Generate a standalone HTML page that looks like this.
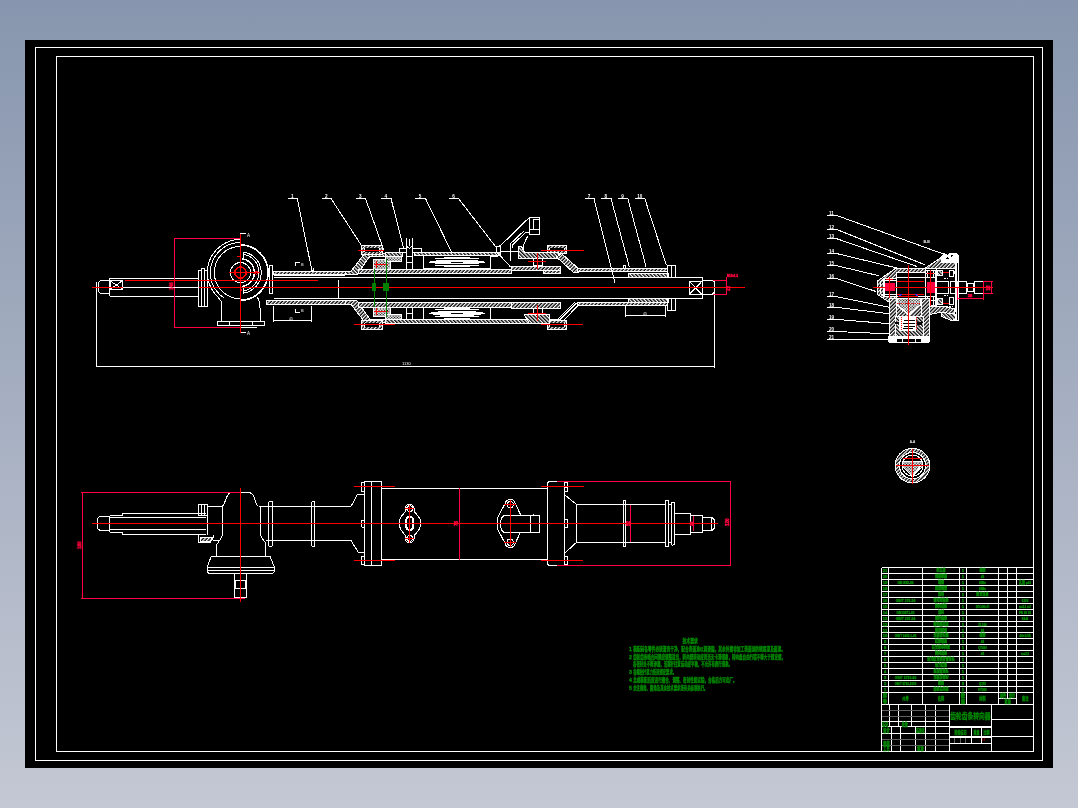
<!DOCTYPE html>
<html lang="zh-CN"><head><meta charset="utf-8"><title>齿轮齿条转向器 装配图</title>
<style>
html,body{margin:0;padding:0;background:#c3c7d3;}
body{width:1078px;height:808px;overflow:hidden;background:linear-gradient(180deg,#8796ae 0%,#c4c8d4 100%);}
svg{display:block;position:absolute;left:0;top:0;}
svg text{font-family:"Liberation Sans","Noto Sans CJK SC",sans-serif;}
svg text.g{fill:#008a00;stroke:#008a00;stroke-width:.35px;}
svg text.p{fill:#ff0040;stroke:#ff0040;stroke-width:.45px;}
</style></head><body>
<svg width="1078" height="808" viewBox="0 0 1078 808">
<defs>
<pattern id="h1" width="2.6" height="2.6" patternUnits="userSpaceOnUse" patternTransform="rotate(-45)"><rect width="2.6" height="2.6" fill="#000"/><rect width="2.6" height="1.25" fill="#fff"/></pattern>
<pattern id="h2" width="2.6" height="2.6" patternUnits="userSpaceOnUse" patternTransform="rotate(45)"><rect width="2.6" height="2.6" fill="#000"/><rect width="2.6" height="1.25" fill="#fff"/></pattern>
<pattern id="x1" width="2" height="2" patternUnits="userSpaceOnUse" patternTransform="rotate(45)"><rect width="2" height="2" fill="#000"/><rect width="2" height="0.8" fill="#fff"/><rect width="0.8" height="2" fill="#fff"/></pattern>
</defs>
<rect x="25" y="40" width="1028" height="728" fill="#000"/>
<g fill="none" stroke="#ffffff" stroke-width="1" shape-rendering="crispEdges"><rect x="35.5" y="47.5" width="1007" height="713"/>
<rect x="56.5" y="56.5" width="977" height="695"/>
<path d="M96.75 282L96.75 366.25L714.25 366.25"/>
<path d="M714.25 280L714.25 367.5"/>
<path d="M109.5 280L101 280L98.75 282L98.75 292L101 293.75L109.5 293.75"/>
<rect x="110" y="280.75" width="12.5" height="8.5"/>
<path d="M110 280.75L122.5 289.25"/>
<path d="M110 289.25L122.5 280.75"/>
<path d="M109.5 278.25L109.5 296.25"/>
<path d="M109.5 278.25L198.5 278.25"/>
<path d="M109.5 296.25L198.5 296.25"/>
<path d="M109.5 278.9L198.5 278.9"/>
<rect x="198.5" y="270.3" width="3" height="35.7"/>
<rect x="201.5" y="268.3" width="3.1" height="38.3"/>
<rect x="204.6" y="270.3" width="2.8" height="35.7"/>
<path d="M240.5 245A27.6 27.6 0 0 1 240.5 300.2" stroke-width="1.6"/>
<path d="M220.06 298.76A33.2 33.2 0 0 1 240.5 239.4"/>
<path d="M223.61 297.64A30.2 30.2 0 0 1 240.5 242.4"/>
<path d="M240.5 298.8A26.2 26.2 0 0 1 240.5 246.4"/>
<circle cx="240.5" cy="272.6" r="10.1"/>
<path d="M243.02 252.05A20.7 20.7 0 0 1 243.02 293.15"/>
<path d="M242.75 254.24A18.5 18.5 0 0 1 242.75 290.96"/>
<path d="M241.95 258.78A13.9 13.9 0 0 1 241.95 286.42" stroke-width="1.5"/>
<path d="M242 258.8L243.6 257.2L243.2 252.2"/>
<path d="M242 286.4L243.6 288L243.2 293"/>
<path d="M240.5 236L240.5 233.75L246 233.75"/>
<path d="M240.5 330.5L240.5 332.6L246 332.6"/>
<rect x="269.7" y="265" width="3" height="28"/>
<path d="M221.6 301.5L221.6 321"/>
<path d="M257.5 297L259.3 302L260 308L260 321"/>
<path d="M221.6 301.5L218 298"/>
<rect x="217" y="321" width="47.5" height="4.8"/>
<path d="M229.4 321L229.4 325.8"/>
<path d="M252.1 321L252.1 325.8"/>
<path d="M225.5 327.2L257.3 327.2"/>
<rect x="273.75" y="271.25" width="72.25" height="3.25" fill="url(#h1)"/>
<rect x="266" y="300.75" width="80" height="3.5" fill="url(#h1)"/>
<path d="M345 271.25L351 271.25L365 253L385.5 253L385.5 256L370 256L357 274.5L345 274.5Z" fill="url(#h2)"/>
<path d="M345 304.25L351 304.25L365 322.5L385.5 322.5L385.5 319.5L370 319.5L357 300.75L345 300.75Z" fill="url(#h1)"/>
<path d="M311 266L311 270.5L313 270.5L313 267.5"/>
<path d="M273.75 277.5L702.5 277.5"/>
<path d="M273.75 298.5L702.5 298.5"/>
<path d="M273.75 275.3L345 275.3"/>
<path d="M273.75 300L345 300"/>
<path d="M330 287.5L338.5 287.5L338.5 298.5"/>
<path d="M338 280.3L338 287"/>
<rect x="385.5" y="252.8" width="16.5" height="3.2" fill="url(#h2)"/>
<rect x="414.8" y="252.6" width="85.2" height="3" fill="url(#h2)"/>
<rect x="385.5" y="319.5" width="161.5" height="3.7" fill="url(#h2)"/>
<rect x="358.7" y="269.3" width="152.3" height="4.3" fill="url(#h1)"/>
<rect x="358.7" y="302.7" width="152.3" height="4.3" fill="url(#h1)"/>
<rect x="361.6" y="245.5" width="20.4" height="8.9" fill="url(#h1)"/></g>
<g stroke="none" shape-rendering="crispEdges"><rect x="364.1" y="247.7" width="15.4" height="4.5" fill="#000"/></g>
<g fill="none" stroke="#ffffff" stroke-width="1" shape-rendering="crispEdges"><path d="M364.1 247.7L364.1 252.2"/>
<path d="M379.5 247.7L379.5 252.2"/>
<rect x="361.6" y="320.5" width="20.4" height="8.9" fill="url(#h1)"/></g>
<g stroke="none" shape-rendering="crispEdges"><rect x="364.1" y="322.7" width="15.4" height="4.5" fill="#000"/></g>
<g fill="none" stroke="#ffffff" stroke-width="1" shape-rendering="crispEdges"><path d="M364.1 322.7L364.1 327.2"/>
<path d="M379.5 322.7L379.5 327.2"/>
<rect x="547.2" y="245.8" width="19.4" height="7.7" fill="url(#h1)"/></g>
<g stroke="none" shape-rendering="crispEdges"><rect x="549.7" y="248" width="14.4" height="3.3" fill="#000"/></g>
<g fill="none" stroke="#ffffff" stroke-width="1" shape-rendering="crispEdges"><path d="M549.7 248L549.7 251.3"/>
<path d="M564.1 248L564.1 251.3"/>
<rect x="547.2" y="320.6" width="19.4" height="9" fill="url(#h1)"/></g>
<g stroke="none" shape-rendering="crispEdges"><rect x="549.7" y="322.8" width="14.4" height="4.6" fill="#000"/></g>
<g fill="none" stroke="#ffffff" stroke-width="1" shape-rendering="crispEdges"><path d="M549.7 322.8L549.7 327.4"/>
<path d="M564.1 322.8L564.1 327.4"/>
<rect x="373" y="259.3" width="17" height="10" fill="url(#x1)"/>
<rect x="373" y="307" width="17" height="9.5" fill="url(#x1)"/>
<rect x="385.5" y="256" width="15.5" height="5.2" fill="url(#x1)"/>
<rect x="385.5" y="314.3" width="15.5" height="5.2" fill="url(#x1)"/>
<path d="M406.2 238L406.2 269.3"/>
<path d="M412.6 238L412.6 269.3"/>
<path d="M409.4 239L409.4 246"/>
<path d="M406.2 246L409.4 248.5L412.6 246"/>
<rect x="399.5" y="248.4" width="6.7" height="4.4"/>
<rect x="412.6" y="248.4" width="8.4" height="4.2"/>
<path d="M406.2 256L412.6 256"/>
<path d="M406.2 262.5L412.6 262.5"/>
<path d="M406.8 307L406.8 319.5"/>
<path d="M412.6 307L412.6 319.5"/>
<path d="M406.8 313L412.6 313"/>
<rect x="423.5" y="255.6" width="66.8" height="13"/>
<path d="M429 262.1L441 260.3H473L485 262.1L473 263.9H441Z" fill="#fff"/></g>
<g stroke="none" shape-rendering="crispEdges"><rect x="451" y="261.7" width="12" height="0.8" fill="#000"/></g>
<g fill="none" stroke="#ffffff" stroke-width="1" shape-rendering="crispEdges"><path d="M434.6 258.7L479 258.7"/>
<path d="M434.6 265.5L479 265.5"/>
<path d="M444 257.3L470 257.3"/>
<path d="M444 266.9L470 266.9"/>
<rect x="423.5" y="307.3" width="66.8" height="12.1"/>
<path d="M429 313.35L441 311.55H473L485 313.35L473 315.15H441Z" fill="#fff"/></g>
<g stroke="none" shape-rendering="crispEdges"><rect x="451" y="312.95" width="12" height="0.8" fill="#000"/></g>
<g fill="none" stroke="#ffffff" stroke-width="1" shape-rendering="crispEdges"><path d="M434.6 309.95L479 309.95"/>
<path d="M434.6 316.75L479 316.75"/>
<path d="M444 308.55L470 308.55"/>
<path d="M444 318.15L470 318.15"/>
<rect x="529" y="217" width="10.8" height="17.8"/>
<rect x="533.5" y="219.5" width="6.3" height="10.3"/>
<path d="M529 229.8L539.8 229.8"/>
<path d="M529 217.8L501.8 244.4L498 246.5"/>
<path d="M524.2 230.7L510.6 243.6L510.6 261.3"/>
<path d="M529 232.5L525.5 232.5L512.4 245L512.4 248"/>
<path d="M527.5 236.4L523.4 245.2L523.4 251.6"/>
<rect x="496" y="246.8" width="4" height="6"/>
<path d="M500 251.6L518.6 251.6"/>
<path d="M497.5 252.8L510.6 267"/>
<path d="M490 256L498 256"/>
<path d="M518.6 252.5L518.6 246.5L521.5 246.5L524.5 252.5L558.8 252.5L558.8 258.9L518.6 258.9Z" fill="url(#h2)"/>
<path d="M556.5 257L561.5 253.5L578.5 268.75L578.5 272L573 272Z" fill="url(#h1)"/>
<rect x="511" y="266" width="49.4" height="4.3" fill="url(#h1)"/>
<rect x="543" y="270.3" width="17.4" height="2.9" fill="url(#h1)"/>
<rect x="533" y="258.9" width="9" height="6.6"/>
<rect x="577.5" y="268.75" width="90" height="3.15" fill="url(#h1)"/>
<rect x="577.5" y="302.5" width="90" height="3.25" fill="url(#h1)"/>
<rect x="511" y="302.5" width="49.4" height="5.5" fill="url(#h1)"/>
<path d="M524.2 314.4L549.2 314.4L549.2 323.2L529 323.2Z" fill="url(#h2)"/>
<rect x="533" y="308" width="9" height="6.4"/>
<path d="M576.5 303L560 319.6"/>
<path d="M578.5 305L563 321"/>
<path d="M574.6 302.6L558 318.8"/>
<path d="M549.2 319.2L560 319.2"/>
<rect x="628" y="273" width="40" height="4" fill="url(#h2)"/>
<rect x="628" y="298.75" width="40" height="3.75" fill="url(#h2)"/>
<rect x="667.5" y="265" width="7.5" height="12.5"/>
<rect x="667.5" y="298.75" width="7.5" height="11.25"/>
<path d="M671 265L671 277.5"/>
<path d="M671 298.75L671 310"/>
<path d="M623.3 268.75L623.3 265L625 265L625 268.75"/>
<path d="M702.5 277.5L702.5 298.5"/>
<rect x="689.25" y="281.25" width="12.75" height="13.25"/>
<path d="M689.25 281.25L702 294.5"/>
<path d="M689.25 294.5L702 281.25"/>
<path d="M702.5 280L712 280L714.25 282L714.25 292.5L712 294.5L702.5 294.5"/>
<path d="M273.75 306.25L273.75 321.8"/>
<path d="M311.25 306.25L311.25 321.8"/>
<path d="M273.75 320.75L311.25 320.75"/>
<path d="M625.5 306.25L625.5 317"/>
<path d="M665 306.25L665 317"/>
<path d="M625.5 315.75L665 315.75"/>
<path d="M295 266L295 262L300 262"/>
<path d="M295 308.75L295 312.6L300 312.6"/>
<path d="M287.75 198.5L297.25 198.5"/>
<path d="M297.25 198.5L311.25 267.5"/>
<path d="M322 198.5L331 198.5"/>
<path d="M331 198.5L361.5 245.5"/>
<path d="M355.75 198.5L365.5 198.5"/>
<path d="M365.5 198.5L383.75 250"/>
<path d="M381.25 198.5L391 198.5"/>
<path d="M391 198.5L403.75 248.75"/>
<path d="M415.25 198.5L425.5 198.5"/>
<path d="M425.5 198.5L451.75 252.5"/>
<path d="M449 198.5L458.5 198.5"/>
<path d="M458.5 198.5L496.25 247.5"/>
<path d="M584.5 198.5L594 198.5"/>
<path d="M594 198.5L615 283"/>
<path d="M601.25 198.5L611 198.5"/>
<path d="M611 198.5L629.5 267.5"/>
<path d="M617.75 198.5L627.75 198.5"/>
<path d="M627.75 198.5L646.25 267.5"/>
<path d="M635.25 198.5L644.75 198.5"/>
<path d="M644.75 198.5L666.25 265"/></g>
<g fill="none" stroke="#ff0040" stroke-width="1" shape-rendering="crispEdges"><path d="M240.5 238.25L174.25 238.25L174.25 327L240.5 327"/></g>
<g fill="none" stroke="#ff0000" stroke-width="1" shape-rendering="crispEdges"><path d="M240.5 233.75L240.5 333"/>
<path d="M125 280.3L317.5 280.3"/>
<path d="M92 287.5L744.5 287.5"/></g>
<g fill="none" stroke="#ffffff" stroke-width="1" shape-rendering="crispEdges"><path d="M122.5 287.5L198.5 287.5"/></g>
<g fill="none" stroke="#ff0000" stroke-width="1" shape-rendering="crispEdges"><circle cx="240.5" cy="272.6" r="5.7" stroke-width="1.4"/>
<path d="M229 272.6L259.5 272.6"/>
<circle cx="256.3" cy="272.6" r="1.6"/>
<path d="M236.5 256.6L240.5 256.6"/></g>
<g stroke="none" shape-rendering="crispEdges"><rect x="239.5" y="289" width="2" height="2" fill="#ff0000"/></g>
<g fill="none" stroke="#ff0000" stroke-width="1" shape-rendering="crispEdges"><path d="M358 250.4L383.75 250.4"/>
<path d="M353.75 324.4L394.5 324.4"/>
<path d="M540.75 250.4L583.75 250.4"/>
<path d="M540.75 324.4L583 324.4"/>
<path d="M373.8 264.5L378.2 264.5"/>
<path d="M376 261L376 268"/>
<path d="M383.8 264.5L388.2 264.5"/>
<path d="M386 261L386 268"/>
<path d="M373.8 311.5L378.2 311.5"/>
<path d="M376 308L376 315"/>
<path d="M383.8 311.5L388.2 311.5"/>
<path d="M386 308L386 315"/>
<path d="M376 264.5L386 264.5"/>
<path d="M376 311.5L386 311.5"/>
<path d="M528.4 261.4L546.4 261.4"/>
<path d="M537.4 253.4L537.4 269.4"/>
<path d="M528.4 313.1L546.4 313.1"/>
<path d="M537.4 305.1L537.4 321.1"/></g>
<g fill="none" stroke="#ff0040" stroke-width="1" shape-rendering="crispEdges"><path d="M713 280.5L726 280.5"/>
<path d="M713 294.25L726 294.25"/>
<path d="M726 277L726 295"/></g>
<g fill="none" stroke="#008000" stroke-width="1" shape-rendering="crispEdges"><path d="M374.6 269L374.6 306.5"/>
<path d="M386.4 259.3L386.4 316.5"/></g>
<g stroke="none" shape-rendering="crispEdges"><rect x="371.6" y="283.3" width="4" height="7.2" fill="#008000"/><rect x="383.3" y="283.3" width="5.3" height="7.2" fill="#008000"/></g>
<g fill="none" stroke="#ffffff" stroke-width="1" shape-rendering="crispEdges"><path d="M827 215.4L836.4 215.4"/>
<path d="M836.4 215.4L948.7 255.9"/>
<path d="M827 229.4L836.4 229.4"/>
<path d="M836.4 229.4L924.6 264.6"/>
<path d="M827 238.6L836.4 238.6"/>
<path d="M836.4 238.6L917 266.5"/>
<path d="M827 253.5L836.4 253.5"/>
<path d="M836.4 253.5L902.3 269.3"/>
<path d="M827 265.6L836.4 265.6"/>
<path d="M836.4 265.6L879 275.8"/>
<path d="M827 278.6L836.4 278.6"/>
<path d="M836.4 278.6L876.3 291.6"/>
<path d="M827 296.6L836.4 296.6"/>
<path d="M836.4 296.6L889.3 307.3"/>
<path d="M827 307.3L836.4 307.3"/>
<path d="M836.4 307.3L889.3 313.8"/>
<path d="M827 319.4L836.4 319.4"/>
<path d="M836.4 319.4L889.3 323.7"/>
<path d="M827 331.5L836.4 331.5"/>
<path d="M836.4 331.5L889.3 333.9"/>
<path d="M827 339.5L836.4 339.5"/>
<path d="M836.4 339.5L888.3 339.5"/>
<path d="M877.4 281L895.3 268.5L925 268.5L925 272.8L896 272.8L896 278L883.7 278L883.7 296.6L896 296.6L896 298.2L889.7 298.2L889.7 302.7L877.4 294.4Z" fill="url(#h1)"/>
<path d="M883.7 279L880.6 281.5L880.6 293.5L883.7 296"/>
<path d="M924.5 268.5L941.5 257.4L941.5 262L955.5 262L955.5 268.6Z" fill="url(#h1)"/>
<path d="M941.5 262V256.5L944.5 253.5L947 255.5L950 253.4H956L958.6 255.5V262Z" fill="#fff"/></g>
<g stroke="none" shape-rendering="crispEdges"><path d="M946.5 258.5l1.2 -1.2l1.2 1.2l-1.2 1.2zM950.5 256.2l2.4 -2l.7 .7l-2.4 2z" fill="#000"/></g>
<g fill="none" stroke="#ffffff" stroke-width="1" shape-rendering="crispEdges"><path d="M896 277.3L925.3 277.3"/>
<rect x="884.1" y="278" width="11.9" height="18.6"/>
<path d="M884.1 280.3L896 280.3"/>
<path d="M884.1 294.3L896 294.3"/>
<path d="M896 296.6L925.3 296.6"/>
<rect x="925.3" y="270" width="10.1" height="35.8"/>
<path d="M925.3 277.3L935.4 277.3"/>
<path d="M925.3 296.6L935.4 296.6"/>
<path d="M925.3 273.6L935.4 273.6"/>
<path d="M925.3 300.3L935.4 300.3"/>
<path d="M927.5 270L927.5 277.3"/>
<path d="M933.2 270L933.2 277.3"/>
<path d="M927.5 296.6L927.5 305.8"/>
<path d="M933.2 296.6L933.2 305.8"/>
<path d="M937 268.6H953.4" stroke-dasharray="2 1"/>
<rect x="949.3" y="270.3" width="3.7" height="6.3"/>
<rect x="949.3" y="297.8" width="3.7" height="6.4"/>
<rect x="937.3" y="270.5" width="5" height="5.3" fill="url(#h2)"/>
<rect x="937.3" y="298.8" width="5" height="5.2" fill="url(#h2)"/>
<path d="M943.5 278.5H948M943.5 295.8H948M937 306H953.4" stroke-dasharray="2 1"/>
<path d="M936 268.6L936 281"/>
<path d="M936 293.7L936 306"/>
<path d="M953.8 270.5L955.3 272.2L953.8 274"/>
<rect x="956.8" y="259" width="1.8" height="61.5"/>
<path d="M955.4 262L955.4 312"/>
<rect x="936" y="281" width="12.2" height="12.7"/>
<rect x="950" y="281.4" width="6.8" height="11.9"/>
<rect x="957.9" y="281.4" width="8.5" height="11.9"/>
<rect x="967.2" y="283.7" width="6.7" height="7.8"/>
<path d="M966.4 284.5L967.2 284.5"/>
<path d="M966.4 290.7L967.2 290.7"/>
<path d="M973.9 284.5L974.6 284.5"/>
<path d="M973.9 290.7L974.6 290.7"/>
<rect x="974.6" y="281.4" width="8.6" height="11.9"/>
<rect x="889.7" y="298.2" width="6.8" height="38" fill="url(#h1)"/>
<rect x="921.2" y="298.2" width="7.8" height="38" fill="url(#h1)"/>
<rect x="896.5" y="298.2" width="24.7" height="18.2" fill="url(#h1)"/>
<path d="M897.5 298.8L920.3 298.8L920.3 304.9L909.6 314.8L907.6 314.8L897.5 304.9Z" fill="url(#x1)"/></g>
<g fill="none" stroke="#ffffff" stroke-width="1.3" shape-rendering="crispEdges"><path d="M897.5 304.9L908.6 314.8L920.3 304.9"/></g>
<g fill="none" stroke="#ffffff" stroke-width="1" shape-rendering="crispEdges"><rect x="895" y="316.4" width="28" height="19.8" fill="url(#h2)"/></g>
<g stroke="none" shape-rendering="crispEdges"><rect x="895.2" y="322" width="4.5" height="1.9" fill="#000"/><rect x="917" y="322" width="4.6" height="2.5" fill="#000"/><rect x="899.3" y="317.1" width="16.4" height="13.4" fill="#fff"/><rect x="903.8" y="320.05" width="11.2" height="0.9" fill="#000"/><rect x="902.5" y="323.05" width="12.5" height="0.9" fill="#000"/><rect x="903.8" y="325.95" width="11.2" height="0.9" fill="#000"/><rect x="902.5" y="328.35" width="10.5" height="0.9" fill="#000"/></g>
<g fill="none" stroke="#ffffff" stroke-width="1" shape-rendering="crispEdges"><rect x="888.2" y="336.2" width="41.6" height="6.2" rx="1.6" fill="#fff"/></g>
<g stroke="none" shape-rendering="crispEdges"><rect x="897" y="338.7" width="5" height="2.8" fill="#000"/><rect x="903.4" y="338.7" width="4.6" height="2.8" fill="#000"/><rect x="909.3" y="338.7" width="5.2" height="2.8" fill="#000"/><rect x="916" y="338.7" width="5.2" height="2.8" fill="#000"/><rect x="895.5" y="337.5" width="27" height="0.6" fill="#000"/></g>
<g fill="none" stroke="#ffffff" stroke-width="1" shape-rendering="crispEdges"><path d="M929 306L941 306L954.3 308.6L954.3 314L941 312.3L929 314.5Z" fill="url(#h1)"/>
<path d="M941 312.3L954.3 314L955.4 314L955.4 319.3L951.3 320.5L941 316Z" fill="url(#h2)"/>
<path d="M951.3 320.5L958.6 320.5"/></g>
<g fill="none" stroke="#ff0000" stroke-width="1" shape-rendering="crispEdges"><path d="M908.5 264.8L908.5 345"/>
<path d="M873 287.6L992.5 287.6"/></g>
<g stroke="none" shape-rendering="crispEdges"><rect x="885.2" y="282.5" width="9.7" height="8.4" fill="#ff0040"/><rect x="926.5" y="281.6" width="8.1" height="11.4" fill="#ff0040"/></g>
<g fill="none" stroke="#ff0000" stroke-width="1" shape-rendering="crispEdges"><path d="M889.2 277.2L889.2 297.6"/>
<path d="M930.3 269.8L930.3 305.6"/>
<path d="M886 279L892.5 279"/>
<path d="M927 273.5L933.5 273.5"/>
<path d="M896.8 281.4L923.5 281.4"/>
<path d="M896.8 294.4L923.5 294.4"/>
<path d="M898.2 296.2L918.3 296.2"/>
<path d="M943 272.1L949 272.1"/>
<path d="M943 303.2L949 303.2"/></g>
<g fill="none" stroke="#ff0040" stroke-width="1" shape-rendering="crispEdges"><path d="M957.5 298.5L983.5 298.5"/>
<path d="M957.5 288L957.5 299.6"/>
<path d="M983.5 281L983.5 300"/>
<path d="M983.5 281.4L993.2 281.4"/>
<path d="M983.5 293L993.2 293"/>
<path d="M991.7 281.4L991.7 293"/></g>
<g fill="none" stroke="#3030ff" stroke-width="1" shape-rendering="crispEdges"><path d="M899 296.2L901.5 294"/>
<path d="M915.5 294L918 296.2"/></g>
<g fill="none" stroke="#ff0000" stroke-width="1" shape-rendering="crispEdges"><path d="M897 303.4H920.5M908.6 298.5V316M901.8 317V331M916.4 317V331" stroke-dasharray="1 1"/></g>
<g fill="none" stroke="#ffffff" stroke-width="1" shape-rendering="crispEdges"><circle cx="912.5" cy="465.6" r="15.2" stroke="url(#h1)" stroke-width="4.2"/>
<circle cx="912.5" cy="465.6" r="17.3"/>
<circle cx="912.5" cy="465.6" r="13.1"/>
<circle cx="912.5" cy="465.6" r="10.5"/>
<path d="M902.5 461.4L922.3 461.4L922.3 466.5L913.5 475.6L911.5 475.6L902.5 466.5Z" fill="url(#x1)"/></g>
<g fill="none" stroke="#ffffff" stroke-width="1.6" shape-rendering="crispEdges"><path d="M921.5 465L913.5 475"/></g>
<g fill="none" stroke="#ff0000" stroke-width="1" shape-rendering="crispEdges"><path d="M896 465.6L929 465.6"/>
<path d="M912.5 449.3L912.5 484"/>
<path d="M903.4 458.2L921.6 458.2"/></g>
<g fill="none" stroke="#ffffff" stroke-width="1" shape-rendering="crispEdges"><path d="M109.5 516.25L100 516.25L97.5 518.5L97.5 528.3L100 530.5L109.5 530.5"/>
<path d="M109.5 515.5L109.5 532"/>
<path d="M109.5 515.5L122.5 515.5L122.5 513L206.25 513"/>
<path d="M109.5 532L122.5 532L122.5 534.5L206.25 534.5"/>
<path d="M109.5 517L206.25 517"/>
<path d="M109.5 529.5L206.25 529.5"/>
<rect x="198.25" y="504.25" width="8.75" height="10.75"/>
<path d="M201 504.25L201 515"/>
<path d="M204.5 504.25L204.5 515"/>
<path d="M198.25 534.5L198.25 542.5L210 542.5L213 538L213 534.5"/>
<path d="M200 537L212.5 537L210 541.5L200 541.5Z" fill="url(#h1)"/>
<path d="M207 506.25L222.5 506.25"/>
<path d="M207 506.25L207 534.5"/>
<path d="M222.5 506.25C226 504 225 494 231 492.5H249.5C256 494 254 504 258.5 506.25"/>
<path d="M222.5 506.25V533C222.5 538 218.5 542 216.25 545V556.25"/>
<path d="M260 506.25V531C260 537 263.5 540 265.5 543V556.25"/>
<path d="M258.5 506.25L268.75 506.25"/>
<path d="M213 540.5L219 540.5"/>
<path d="M211.25 556.25L270 556.25L274.5 567.5L274.5 571.5L272.5 573.75L209 573.75L207 571.5L207 567.5Z"/>
<path d="M207 567.5L274.5 567.5"/>
<path d="M207.5 570.5L274 570.5"/>
<path d="M234.5 573.75L234.5 597.5L246.25 597.5L246.25 573.75"/>
<path d="M234.5 580.75L246.25 580.75"/>
<path d="M234.5 588.75L246.25 588.75"/>
<path d="M235.5 580.75L235.5 588.75"/>
<path d="M245.25 580.75L245.25 588.75"/>
<path d="M268.75 506.25L351.25 506.25"/>
<path d="M265.5 540.75L351.25 540.75"/>
<rect x="268.75" y="501.25" width="3.75" height="45" rx="1"/>
<rect x="311.75" y="501.25" width="2.85" height="45.25" rx="1"/>
<path d="M351 506.4L357.4 494.5L364.3 494.5"/>
<path d="M351 540.6L358.4 552.4L364.3 552.4"/>
<rect x="364.3" y="481.5" width="17.2" height="84" rx="1.2"/>
<path d="M371.6 481.5L371.6 565.5"/>
<path d="M364.3 482.5L362 482.5L361.1 483.5L361.1 490.8L362 491.8L364.3 491.8"/>
<path d="M364.3 520L362 520L361.1 521L361.1 526.1L362 527.1L364.3 527.1"/>
<path d="M364.3 556L362 556L361.1 557L361.1 563.6L362 564.6L364.3 564.6"/>
<path d="M381.5 488.25L547.5 488.25"/>
<path d="M381.5 559.4L547.5 559.4"/>
<path d="M405.3 508.6A4.4 4.4 0 0 1 414.1 508.6V511C414.5 513.5 420.9 516 420.9 523.4S414.5 533.5 414.1 536V538.4A4.4 4.4 0 0 1 405.3 538.4V536C405 533.5 399.2 531 399.2 523.4S405 513.5 405.3 511Z"/>
<circle cx="409.7" cy="508.6" r="2.9"/>
<circle cx="409.7" cy="538.4" r="2.9"/>
<rect x="405.8" y="516.2" width="7.8" height="14.4" rx="3.8"/>
<rect x="406.8" y="517.2" width="5.8" height="12.4" rx="2.9"/>
<path d="M505.2 503.3A5.2 5.2 0 0 1 515.3 503.5L520.6 514.8M505.2 503.3L497.7 517.5Q496.5 523.4 497.7 529.3L505.2 543.6A5.2 5.2 0 0 0 515.3 543.4L520 533"/>
<circle cx="510.2" cy="504.8" r="3.1"/>
<circle cx="510.2" cy="542.2" r="3.1"/>
<path d="M539.6 515.2H506Q500.6 515.2 500.6 523.9Q500.6 532.7 506 532.7H539.6V515.2M530 515.2V532.7M533.7 515.2V513.7"/>
<path d="M557 481.5L549 481.5L547.5 483L547.5 564L549 565.5L557 565.5"/>
<path d="M564.25 481.5L564.25 565.5"/>
<rect x="564.25" y="482.2" width="2.75" height="9.6"/>
<path d="M564.25 487L567 487"/>
<rect x="564.25" y="519.3" width="2.75" height="8.1"/>
<path d="M564.25 523.35L567 523.35"/>
<rect x="564.25" y="556" width="2.75" height="8.6"/>
<path d="M564.25 560.3L567 560.3"/>
<path d="M564.25 494.5L576.5 504.4L576.5 542.3L564.25 553.7"/>
<path d="M576.5 504.4L665 504.4"/>
<path d="M576.5 542.3L665 542.3"/>
<rect x="623" y="500" width="2.75" height="46.75" rx="1"/>
<rect x="665" y="500" width="3.25" height="46.75" rx="1"/>
<rect x="671.25" y="502" width="3" height="43" rx="1"/>
<path d="M668.25 504.5L671.25 504.5"/>
<path d="M668.25 542L671.25 542"/>
<path d="M674.25 513.25L690 513.25L690 515.5L702.5 515.5L702.5 532L690 532L690 534.25L674.25 534.25"/>
<path d="M690 515.5L690 532"/>
<path d="M702.5 517L711.5 517L714.25 519.5L714.25 528.5L711.5 530.75L702.5 530.75"/>
<path d="M702.5 517L702.5 530.75"/>
<path d="M711 517L711 530.75"/></g>
<g fill="none" stroke="#ff0040" stroke-width="1" shape-rendering="crispEdges"><path d="M240 492.5L82.5 492.5L82.5 598L245 598"/>
<path d="M81.25 492.5L82.5 492.5"/>
<path d="M81.25 598L82.5 598"/></g>
<g fill="none" stroke="#ff0000" stroke-width="1" shape-rendering="crispEdges"><path d="M240.5 488.25L240.5 601.75"/>
<path d="M92 523.3L717.5 523.3"/>
<path d="M354 486.6L394.8 486.6"/>
<path d="M354 560.2L394.8 560.2"/>
<path d="M541 486.6L584 486.6"/>
<path d="M541 560.2L583 560.2"/></g>
<g fill="none" stroke="#ff0040" stroke-width="1" shape-rendering="crispEdges"><path d="M459.25 488.25L459.25 559.5"/></g>
<g fill="none" stroke="#ff0000" stroke-width="1" shape-rendering="crispEdges"><path d="M409.7 504.5L409.7 542.5"/>
<path d="M405.3 508.6L414.1 508.6"/>
<path d="M405.3 538.4L414.1 538.4"/>
<path d="M510.2 500L510.2 547"/>
<path d="M504.3 504.8L516 504.8"/>
<path d="M504.3 542.2L516 542.2"/></g>
<g fill="none" stroke="#ff0040" stroke-width="1" shape-rendering="crispEdges"><path d="M557 481.25L731.25 481.25"/>
<path d="M557 565.25L731.25 565.25"/>
<path d="M730 481.25L730 565.25"/>
<path d="M630.5 504.5L630.5 542"/>
<path d="M693.75 516.25L693.75 531.25"/></g>
<g fill="none" stroke="#ffffff" stroke-width="1" shape-rendering="crispEdges"><path d="M881.5 567.5L1033.5 567.5"/>
<path d="M881.5 573.45L1033.5 573.45"/>
<path d="M881.5 579.39L1033.5 579.39"/>
<path d="M881.5 585.34L1033.5 585.34"/>
<path d="M881.5 591.28L1033.5 591.28"/>
<path d="M881.5 597.23L1033.5 597.23"/>
<path d="M881.5 603.17L1033.5 603.17"/>
<path d="M881.5 609.12L1033.5 609.12"/>
<path d="M881.5 615.06L1033.5 615.06"/>
<path d="M881.5 621L1033.5 621"/>
<path d="M881.5 626.95L1033.5 626.95"/>
<path d="M881.5 632.89L1033.5 632.89"/>
<path d="M881.5 638.84L1033.5 638.84"/>
<path d="M881.5 644.78L1033.5 644.78"/>
<path d="M881.5 650.73L1033.5 650.73"/>
<path d="M881.5 656.67L1033.5 656.67"/>
<path d="M881.5 662.62L1033.5 662.62"/>
<path d="M881.5 668.57L1033.5 668.57"/>
<path d="M881.5 674.51L1033.5 674.51"/>
<path d="M881.5 680.46L1033.5 680.46"/>
<path d="M881.5 686.4L1033.5 686.4"/>
<path d="M881.5 692.35L1033.5 692.35"/>
<path d="M881.5 567.5L881.5 704.5"/>
<path d="M888.6 567.5L888.6 704.5"/>
<path d="M922.5 567.5L922.5 704.5"/>
<path d="M959.5 567.5L959.5 704.5"/>
<path d="M966.5 567.5L966.5 704.5"/>
<path d="M998.4 567.5L998.4 704.5"/>
<path d="M1007.5 567.5L1007.5 704.5"/>
<path d="M1016.6 567.5L1016.6 704.5"/>
<path d="M881.5 704.5L1033.5 704.5"/></g>
<g stroke="none" shape-rendering="crispEdges"><rect x="998.9" y="698.9" width="17.2" height="5.1" fill="#000"/></g>
<g fill="none" stroke="#ffffff" stroke-width="1" shape-rendering="crispEdges"><path d="M998.4 698.8L1016.6 698.8"/>
<path d="M889.2 704.5L889.2 726.6"/>
<path d="M898.3 704.5L898.3 726.6"/>
<path d="M911.4 704.5L911.4 726.6"/>
<path d="M925.2 704.5L925.2 726.6"/>
<path d="M935.8 704.5L935.8 726.6"/>
<path d="M949.5 704.5L949.5 726.6"/>
<path d="M881.5 704.5L881.5 751.5"/></g>
<g fill="none" stroke="#606060" stroke-width="1" shape-rendering="crispEdges"><path d="M881.5 710.3L949.5 710.3"/>
<path d="M881.5 716.4L949.5 716.4"/></g>
<g fill="none" stroke="#ffffff" stroke-width="1" shape-rendering="crispEdges"><path d="M881.5 721.4L949.5 721.4"/>
<path d="M881.5 726.6L949.5 726.6"/>
<path d="M891.4 726.6L891.4 751.5"/>
<path d="M900.6 726.6L900.6 751.5"/>
<path d="M915.6 726.6L915.6 751.5"/>
<path d="M925.2 726.6L925.2 751.5"/>
<path d="M935.8 726.6L935.8 751.5"/>
<path d="M949.5 726.6L949.5 751.5"/>
<path d="M881.5 733.2L949.5 733.2"/></g>
<g fill="none" stroke="#606060" stroke-width="1" shape-rendering="crispEdges"><path d="M881.5 739.3L949.5 739.3"/>
<path d="M881.5 745.5L949.5 745.5"/></g>
<g fill="none" stroke="#ffffff" stroke-width="1" shape-rendering="crispEdges"><path d="M949.5 704.5L949.5 751.5"/>
<rect x="949.9" y="727.9" width="21.2" height="8.4"/>
<rect x="971.9" y="727.9" width="9.2" height="8.4"/>
<rect x="981.9" y="727.9" width="9.4" height="8.4"/>
<rect x="949.9" y="737" width="21.2" height="6.2"/>
<rect x="971.9" y="737" width="9.2" height="6.2"/>
<rect x="981.9" y="737" width="9.4" height="6.2"/>
<path d="M949.5 726.9L991.3 726.9"/>
<path d="M949.5 743.9L991.3 743.9"/></g>
<g fill="none" stroke="#606060" stroke-width="1" shape-rendering="crispEdges"><path d="M954.6 737.5L954.6 742.7"/>
<path d="M960.3 737.5L960.3 742.7"/>
<path d="M965.6 737.5L965.6 742.7"/></g>
<g fill="none" stroke="#ffffff" stroke-width="1.4" shape-rendering="crispEdges"><path d="M991.6 704.5L991.6 751.5"/>
<path d="M991.6 719.4L1033.5 719.4"/>
<path d="M991.6 736.7L1033.5 736.7"/></g>
<g opacity="0.999"><text x="402" y="365" font-size="4" fill="#fff">1130</text>
<text x="247" y="236.5" font-size="4.5" fill="#fff">A</text>
<text x="247" y="335" font-size="4.5" fill="#fff">A</text>
<text x="289" y="319.5" font-size="3.5" fill="#fff">45</text>
<text x="643" y="314.5" font-size="3.5" fill="#fff">45</text>
<text x="301" y="265.5" font-size="4" fill="#fff">B</text>
<text x="301" y="312" font-size="4" fill="#fff">B</text>
<text x="292.25" y="197.6" font-size="4.6" fill="#fff" text-anchor="middle" font-weight="bold">1</text>
<text x="326.25" y="197.6" font-size="4.6" fill="#fff" text-anchor="middle" font-weight="bold">2</text>
<text x="360.38" y="197.6" font-size="4.6" fill="#fff" text-anchor="middle" font-weight="bold">3</text>
<text x="385.88" y="197.6" font-size="4.6" fill="#fff" text-anchor="middle" font-weight="bold">4</text>
<text x="420.12" y="197.6" font-size="4.6" fill="#fff" text-anchor="middle" font-weight="bold">5</text>
<text x="453.5" y="197.6" font-size="4.6" fill="#fff" text-anchor="middle" font-weight="bold">6</text>
<text x="589" y="197.6" font-size="4.6" fill="#fff" text-anchor="middle" font-weight="bold">7</text>
<text x="605.88" y="197.6" font-size="4.6" fill="#fff" text-anchor="middle" font-weight="bold">8</text>
<text x="622.5" y="197.6" font-size="4.6" fill="#fff" text-anchor="middle" font-weight="bold">9</text>
<text x="639.75" y="197.6" font-size="4.6" fill="#fff" text-anchor="middle" font-weight="bold">10</text>
<text class="p" x="173.2" y="290" font-size="4.5" font-weight="bold" transform="rotate(-90 173.2 290)">146</text>
<text class="p" x="727" y="277" font-size="4" textLength="11" lengthAdjust="spacingAndGlyphs" font-weight="bold">M16×1.5</text>
<text class="p" x="729.6" y="291" font-size="4.5" font-weight="bold" transform="rotate(-90 729.6 291)">22</text>
<text x="831.5" y="214.8" font-size="4.6" fill="#fff" text-anchor="middle" font-weight="bold">11</text>
<text x="831.5" y="228.8" font-size="4.6" fill="#fff" text-anchor="middle" font-weight="bold">12</text>
<text x="831.5" y="238" font-size="4.6" fill="#fff" text-anchor="middle" font-weight="bold">13</text>
<text x="831.5" y="252.9" font-size="4.6" fill="#fff" text-anchor="middle" font-weight="bold">14</text>
<text x="831.5" y="265" font-size="4.6" fill="#fff" text-anchor="middle" font-weight="bold">15</text>
<text x="831.5" y="278" font-size="4.6" fill="#fff" text-anchor="middle" font-weight="bold">16</text>
<text x="831.5" y="296" font-size="4.6" fill="#fff" text-anchor="middle" font-weight="bold">17</text>
<text x="831.5" y="306.7" font-size="4.6" fill="#fff" text-anchor="middle" font-weight="bold">18</text>
<text x="831.5" y="318.8" font-size="4.6" fill="#fff" text-anchor="middle" font-weight="bold">19</text>
<text x="831.5" y="330.9" font-size="4.6" fill="#fff" text-anchor="middle" font-weight="bold">20</text>
<text x="831.5" y="338.9" font-size="4.6" fill="#fff" text-anchor="middle" font-weight="bold">21</text>
<text x="926.6" y="242.6" font-size="3.6" fill="#fff" text-anchor="middle" textLength="6.4" lengthAdjust="spacingAndGlyphs" font-weight="bold">B-B</text>
<text class="p" x="970" y="297.4" font-size="4" text-anchor="middle" font-weight="bold">28</text>
<text class="p" x="990.4" y="290.5" font-size="4.5" font-weight="bold" transform="rotate(-90 990.4 290.5)">18</text>
<text x="912.5" y="442.6" font-size="3.6" fill="#fff" text-anchor="middle" textLength="5.6" lengthAdjust="spacingAndGlyphs" font-weight="bold">A-A</text>
<text class="p" x="81.3" y="549" font-size="4.5" font-weight="bold" transform="rotate(-90 81.3 549)">180</text>
<text class="p" x="458.2" y="526" font-size="4.5" font-weight="bold" transform="rotate(-90 458.2 526)">76</text>
<text class="p" x="729" y="526" font-size="4.5" font-weight="bold" transform="rotate(-90 729 526)">120</text>
<text class="p" x="629.5" y="526" font-size="4.5" font-weight="bold" transform="rotate(-90 629.5 526)">52</text>
<text class="p" x="692.8" y="526" font-size="4" font-weight="bold" transform="rotate(-90 692.8 526)">22</text>
<text class="g" x="682.5" y="643.2" font-size="5.2" textLength="15.5" lengthAdjust="spacingAndGlyphs" font-weight="bold">技术要求</text>
<text class="g" x="629" y="650.6" font-size="5.2" font-weight="bold">1</text>
<text class="g" x="633.2" y="650.6" font-size="5.2" textLength="151.8" lengthAdjust="spacingAndGlyphs" font-weight="bold">装配前各零件必须清洗干净，配合表面涂以润滑脂，其余外露非加工表面涂防锈底漆及面漆。</text>
<text class="g" x="629" y="658.6" font-size="5.2" font-weight="bold">2</text>
<text class="g" x="633.2" y="658.6" font-size="5.2" textLength="151.8" lengthAdjust="spacingAndGlyphs" font-weight="bold">齿轮齿条啮合间隙应调整适当，转向器转动应灵活无卡滞现象，转向盘自由行程不得大于规定值，</text>
<text class="g" x="633" y="666.2" font-size="5.2" textLength="99" lengthAdjust="spacingAndGlyphs" font-weight="bold">各密封处不得渗漏，活塞杆往复运动应平稳，不允许有爬行现象。</text>
<text class="g" x="629" y="674.2" font-size="5.2" font-weight="bold">3</text>
<text class="g" x="633.2" y="674.2" font-size="5.2" textLength="42.8" lengthAdjust="spacingAndGlyphs" font-weight="bold">各螺栓拧紧力矩按规定要求。</text>
<text class="g" x="629" y="682" font-size="5.2" font-weight="bold">4</text>
<text class="g" x="633.2" y="682" font-size="5.2" textLength="103.4" lengthAdjust="spacingAndGlyphs" font-weight="bold">总成装配后应进行磨合、调整、密封性能试验，合格后方可出厂。</text>
<text class="g" x="629" y="689.9" font-size="5.2" font-weight="bold">5</text>
<text class="g" x="633.2" y="689.9" font-size="5.2" textLength="74.3" lengthAdjust="spacingAndGlyphs" font-weight="bold">未注倒角、圆角及其余技术要求按有关标准执行。</text>
<text class="g" x="885.05" y="572.05" font-size="4.2" text-anchor="middle" font-weight="bold">21</text>
<text class="g" x="941" y="572.05" font-size="4.1" text-anchor="middle" textLength="9.15" lengthAdjust="spacingAndGlyphs" font-weight="bold">防尘罩</text>
<text class="g" x="963" y="572.05" font-size="4.2" text-anchor="middle" font-weight="bold">1</text>
<text class="g" x="982.45" y="572.05" font-size="4.1" text-anchor="middle" textLength="6.1" lengthAdjust="spacingAndGlyphs" font-weight="bold">橡胶</text>
<text class="g" x="885.05" y="577.99" font-size="4.2" text-anchor="middle" font-weight="bold">20</text>
<text class="g" x="941" y="577.99" font-size="4.1" text-anchor="middle" textLength="12.2" lengthAdjust="spacingAndGlyphs" font-weight="bold">调整螺塞</text>
<text class="g" x="963" y="577.99" font-size="4.2" text-anchor="middle" font-weight="bold">1</text>
<text class="g" x="982.45" y="577.99" font-size="4.1" text-anchor="middle" textLength="3.4" lengthAdjust="spacingAndGlyphs" font-weight="bold">45</text>
<text class="g" x="885.05" y="583.94" font-size="4.2" text-anchor="middle" font-weight="bold">19</text>
<text class="g" x="905.55" y="583.94" font-size="4.2" text-anchor="middle" textLength="16.2" lengthAdjust="spacingAndGlyphs" font-weight="bold">GB 893-86</text>
<text class="g" x="941" y="583.94" font-size="4.1" text-anchor="middle" textLength="6.1" lengthAdjust="spacingAndGlyphs" font-weight="bold">挡圈</text>
<text class="g" x="963" y="583.94" font-size="4.2" text-anchor="middle" font-weight="bold">1</text>
<text class="g" x="982.45" y="583.94" font-size="4.1" text-anchor="middle" textLength="6.8" lengthAdjust="spacingAndGlyphs" font-weight="bold">65Mn</text>
<text class="g" x="1025.05" y="583.94" font-size="4.2" text-anchor="middle" textLength="12" lengthAdjust="spacingAndGlyphs" font-weight="bold">孔用 φ40</text>
<text class="g" x="885.05" y="589.88" font-size="4.2" text-anchor="middle" font-weight="bold">18</text>
<text class="g" x="941" y="589.88" font-size="4.1" text-anchor="middle" textLength="12.2" lengthAdjust="spacingAndGlyphs" font-weight="bold">压紧弹簧</text>
<text class="g" x="963" y="589.88" font-size="4.2" text-anchor="middle" font-weight="bold">1</text>
<text class="g" x="982.45" y="589.88" font-size="4.1" text-anchor="middle" textLength="6.8" lengthAdjust="spacingAndGlyphs" font-weight="bold">65Mn</text>
<text class="g" x="885.05" y="595.83" font-size="4.2" text-anchor="middle" font-weight="bold">17</text>
<text class="g" x="941" y="595.83" font-size="4.1" text-anchor="middle" textLength="6.1" lengthAdjust="spacingAndGlyphs" font-weight="bold">压块</text>
<text class="g" x="963" y="595.83" font-size="4.2" text-anchor="middle" font-weight="bold">1</text>
<text class="g" x="982.45" y="595.83" font-size="4.1" text-anchor="middle" textLength="12.2" lengthAdjust="spacingAndGlyphs" font-weight="bold">粉末冶金</text>
<text class="g" x="885.05" y="601.77" font-size="4.2" text-anchor="middle" font-weight="bold">16</text>
<text class="g" x="905.55" y="601.77" font-size="4.2" text-anchor="middle" textLength="19.8" lengthAdjust="spacingAndGlyphs" font-weight="bold">GB/T 276-94</text>
<text class="g" x="941" y="601.77" font-size="4.1" text-anchor="middle" textLength="15.25" lengthAdjust="spacingAndGlyphs" font-weight="bold">深沟球轴承</text>
<text class="g" x="963" y="601.77" font-size="4.2" text-anchor="middle" font-weight="bold">1</text>
<text class="g" x="1025.05" y="601.77" font-size="4.2" text-anchor="middle" textLength="6.4" lengthAdjust="spacingAndGlyphs" font-weight="bold">6203</text>
<text class="g" x="885.05" y="607.72" font-size="4.2" text-anchor="middle" font-weight="bold">15</text>
<text class="g" x="941" y="607.72" font-size="4.1" text-anchor="middle" textLength="12.2" lengthAdjust="spacingAndGlyphs" font-weight="bold">转向齿轮</text>
<text class="g" x="963" y="607.72" font-size="4.2" text-anchor="middle" font-weight="bold">1</text>
<text class="g" x="982.45" y="607.72" font-size="4.1" text-anchor="middle" textLength="13.6" lengthAdjust="spacingAndGlyphs" font-weight="bold">20CrMnTi</text>
<text class="g" x="1025.05" y="607.72" font-size="4.2" text-anchor="middle" textLength="12" lengthAdjust="spacingAndGlyphs" font-weight="bold">m=2.5 z=7</text>
<text class="g" x="885.05" y="613.66" font-size="4.2" text-anchor="middle" font-weight="bold">14</text>
<text class="g" x="905.55" y="613.66" font-size="4.2" text-anchor="middle" textLength="18" lengthAdjust="spacingAndGlyphs" font-weight="bold">GB13871-92</text>
<text class="g" x="941" y="613.66" font-size="4.1" text-anchor="middle" textLength="6.1" lengthAdjust="spacingAndGlyphs" font-weight="bold">油封</text>
<text class="g" x="963" y="613.66" font-size="4.2" text-anchor="middle" font-weight="bold">1</text>
<text class="g" x="1025.05" y="613.66" font-size="4.2" text-anchor="middle" textLength="12" lengthAdjust="spacingAndGlyphs" font-weight="bold">FB 20 35</text>
<text class="g" x="885.05" y="619.61" font-size="4.2" text-anchor="middle" font-weight="bold">13</text>
<text class="g" x="905.55" y="619.61" font-size="4.2" text-anchor="middle" textLength="19.8" lengthAdjust="spacingAndGlyphs" font-weight="bold">GB/T 297-94</text>
<text class="g" x="941" y="619.61" font-size="4.1" text-anchor="middle" textLength="12.2" lengthAdjust="spacingAndGlyphs" font-weight="bold">滚针轴承</text>
<text class="g" x="963" y="619.61" font-size="4.2" text-anchor="middle" font-weight="bold">1</text>
<text class="g" x="1025.05" y="619.61" font-size="4.2" text-anchor="middle" textLength="6.4" lengthAdjust="spacingAndGlyphs" font-weight="bold">NA49</text>
<text class="g" x="885.05" y="625.55" font-size="4.2" text-anchor="middle" font-weight="bold">12</text>
<text class="g" x="941" y="625.55" font-size="4.1" text-anchor="middle" textLength="15.25" lengthAdjust="spacingAndGlyphs" font-weight="bold">转向器壳体</text>
<text class="g" x="963" y="625.55" font-size="4.2" text-anchor="middle" font-weight="bold">1</text>
<text class="g" x="982.45" y="625.55" font-size="4.1" text-anchor="middle" textLength="8.5" lengthAdjust="spacingAndGlyphs" font-weight="bold">ZL104</text>
<text class="g" x="885.05" y="631.5" font-size="4.2" text-anchor="middle" font-weight="bold">11</text>
<text class="g" x="941" y="631.5" font-size="4.1" text-anchor="middle" textLength="12.2" lengthAdjust="spacingAndGlyphs" font-weight="bold">锁紧螺母</text>
<text class="g" x="963" y="631.5" font-size="4.2" text-anchor="middle" font-weight="bold">1</text>
<text class="g" x="982.45" y="631.5" font-size="4.1" text-anchor="middle" textLength="3.4" lengthAdjust="spacingAndGlyphs" font-weight="bold">35</text>
<text class="g" x="885.05" y="637.44" font-size="4.2" text-anchor="middle" font-weight="bold">10</text>
<text class="g" x="905.55" y="637.44" font-size="4.2" text-anchor="middle" textLength="21.5" lengthAdjust="spacingAndGlyphs" font-weight="bold">GB/T 3452.1-92</text>
<text class="g" x="941" y="637.44" font-size="4.1" text-anchor="middle" textLength="15.25" lengthAdjust="spacingAndGlyphs" font-weight="bold">活塞密封圈</text>
<text class="g" x="963" y="637.44" font-size="4.2" text-anchor="middle" font-weight="bold">1</text>
<text class="g" x="982.45" y="637.44" font-size="4.1" text-anchor="middle" textLength="6.1" lengthAdjust="spacingAndGlyphs" font-weight="bold">橡胶</text>
<text class="g" x="1025.05" y="637.44" font-size="4.2" text-anchor="middle" textLength="11.2" lengthAdjust="spacingAndGlyphs" font-weight="bold">40×3.55</text>
<text class="g" x="885.05" y="643.38" font-size="4.2" text-anchor="middle" font-weight="bold">9</text>
<text class="g" x="941" y="643.38" font-size="4.1" text-anchor="middle" textLength="12.2" lengthAdjust="spacingAndGlyphs" font-weight="bold">缸筒端盖</text>
<text class="g" x="963" y="643.38" font-size="4.2" text-anchor="middle" font-weight="bold">1</text>
<text class="g" x="982.45" y="643.38" font-size="4.1" text-anchor="middle" textLength="3.4" lengthAdjust="spacingAndGlyphs" font-weight="bold">45</text>
<text class="g" x="885.05" y="649.33" font-size="4.2" text-anchor="middle" font-weight="bold">8</text>
<text class="g" x="941" y="649.33" font-size="4.1" text-anchor="middle" textLength="18.3" lengthAdjust="spacingAndGlyphs" font-weight="bold">右支承导向套</text>
<text class="g" x="963" y="649.33" font-size="4.2" text-anchor="middle" font-weight="bold">1</text>
<text class="g" x="982.45" y="649.33" font-size="4.1" text-anchor="middle" textLength="8.5" lengthAdjust="spacingAndGlyphs" font-weight="bold">QT450</text>
<text class="g" x="885.05" y="655.27" font-size="4.2" text-anchor="middle" font-weight="bold">7</text>
<text class="g" x="941" y="655.27" font-size="4.1" text-anchor="middle" textLength="12.2" lengthAdjust="spacingAndGlyphs" font-weight="bold">转向齿条</text>
<text class="g" x="963" y="655.27" font-size="4.2" text-anchor="middle" font-weight="bold">1</text>
<text class="g" x="982.45" y="655.27" font-size="4.1" text-anchor="middle" textLength="3.4" lengthAdjust="spacingAndGlyphs" font-weight="bold">45</text>
<text class="g" x="1025.05" y="655.27" font-size="4.2" text-anchor="middle" textLength="8" lengthAdjust="spacingAndGlyphs" font-weight="bold">m=2.5</text>
<text class="g" x="885.05" y="661.22" font-size="4.2" text-anchor="middle" font-weight="bold">6</text>
<text class="g" x="941" y="661.22" font-size="4.1" text-anchor="middle" textLength="27.45" lengthAdjust="spacingAndGlyphs" font-weight="bold">动力缸支架及管接头</text>
<text class="g" x="963" y="661.22" font-size="4.2" text-anchor="middle" font-weight="bold">1</text>
<text class="g" x="885.05" y="667.17" font-size="4.2" text-anchor="middle" font-weight="bold">5</text>
<text class="g" x="941" y="667.17" font-size="4.1" text-anchor="middle" textLength="12.2" lengthAdjust="spacingAndGlyphs" font-weight="bold">动力缸筒</text>
<text class="g" x="963" y="667.17" font-size="4.2" text-anchor="middle" font-weight="bold">1</text>
<text class="g" x="885.05" y="673.11" font-size="4.2" text-anchor="middle" font-weight="bold">4</text>
<text class="g" x="941" y="673.11" font-size="4.1" text-anchor="middle" textLength="15.25" lengthAdjust="spacingAndGlyphs" font-weight="bold">进油管接头</text>
<text class="g" x="963" y="673.11" font-size="4.2" text-anchor="middle" font-weight="bold">1</text>
<text class="g" x="885.05" y="679.06" font-size="4.2" text-anchor="middle" font-weight="bold">3</text>
<text class="g" x="905.55" y="679.06" font-size="4.2" text-anchor="middle" textLength="21.5" lengthAdjust="spacingAndGlyphs" font-weight="bold">GB/T 5783-86</text>
<text class="g" x="941" y="679.06" font-size="4.1" text-anchor="middle" textLength="15.25" lengthAdjust="spacingAndGlyphs" font-weight="bold">活塞及密封</text>
<text class="g" x="963" y="679.06" font-size="4.2" text-anchor="middle" font-weight="bold">1</text>
<text class="g" x="885.05" y="685" font-size="4.2" text-anchor="middle" font-weight="bold">2</text>
<text class="g" x="905.55" y="685" font-size="4.2" text-anchor="middle" textLength="21.5" lengthAdjust="spacingAndGlyphs" font-weight="bold">GB/T 5782-2000</text>
<text class="g" x="941" y="685" font-size="4.1" text-anchor="middle" textLength="6.1" lengthAdjust="spacingAndGlyphs" font-weight="bold">螺栓</text>
<text class="g" x="963" y="685" font-size="4.2" text-anchor="middle" font-weight="bold">8</text>
<text class="g" x="982.45" y="685" font-size="4.1" text-anchor="middle" textLength="6.8" lengthAdjust="spacingAndGlyphs" font-weight="bold">Q235</text>
<text class="g" x="885.05" y="690.95" font-size="4.2" text-anchor="middle" font-weight="bold">1</text>
<text class="g" x="941" y="690.95" font-size="4.1" text-anchor="middle" textLength="15.25" lengthAdjust="spacingAndGlyphs" font-weight="bold">齿条左壳体</text>
<text class="g" x="963" y="690.95" font-size="4.2" text-anchor="middle" font-weight="bold">1</text>
<text class="g" x="982.45" y="690.95" font-size="4.1" text-anchor="middle" textLength="8.5" lengthAdjust="spacingAndGlyphs" font-weight="bold">HT200</text>
<text class="g" x="885" y="697.2" font-size="4.4" text-anchor="middle" font-weight="bold">序</text>
<text class="g" x="885" y="702.8" font-size="4.4" text-anchor="middle" font-weight="bold">号</text>
<text class="g" x="905.5" y="700.3" font-size="4.6" text-anchor="middle" textLength="6.5" lengthAdjust="spacingAndGlyphs" font-weight="bold">代号</text>
<text class="g" x="941" y="700.3" font-size="4.6" text-anchor="middle" textLength="6.5" lengthAdjust="spacingAndGlyphs" font-weight="bold">名称</text>
<text class="g" x="963" y="697.2" font-size="4.4" text-anchor="middle" font-weight="bold">数</text>
<text class="g" x="963" y="702.8" font-size="4.4" text-anchor="middle" font-weight="bold">量</text>
<text class="g" x="982.4" y="700.3" font-size="4.6" text-anchor="middle" textLength="6.5" lengthAdjust="spacingAndGlyphs" font-weight="bold">材料</text>
<text class="g" x="1003" y="697.3" font-size="4.4" text-anchor="middle" textLength="6.2" lengthAdjust="spacingAndGlyphs" font-weight="bold">单件</text>
<text class="g" x="1012" y="697.3" font-size="4.4" text-anchor="middle" textLength="6.2" lengthAdjust="spacingAndGlyphs" font-weight="bold">总计</text>
<text class="g" x="1007.7" y="703.3" font-size="4.4" text-anchor="middle" textLength="6.2" lengthAdjust="spacingAndGlyphs" font-weight="bold">重量</text>
<text class="g" x="1025.3" y="700.3" font-size="4.6" text-anchor="middle" textLength="6.5" lengthAdjust="spacingAndGlyphs" font-weight="bold">备注</text>
<text class="g" x="970.4" y="719.2" font-size="8.4" text-anchor="middle" textLength="40.3" lengthAdjust="spacingAndGlyphs" font-weight="bold">齿轮齿条转向器</text>
<text class="g" x="885.3" y="726" font-size="4.2" text-anchor="middle" textLength="6" lengthAdjust="spacingAndGlyphs" font-weight="bold">标记</text>
<text class="g" x="904.8" y="726" font-size="4.2" text-anchor="middle" textLength="6" lengthAdjust="spacingAndGlyphs" font-weight="bold">处数</text>
<text class="g" x="886.4" y="732.2" font-size="4.2" text-anchor="middle" textLength="6.4" lengthAdjust="spacingAndGlyphs" font-weight="bold">设计</text>
<text class="g" x="920.4" y="732.2" font-size="4.2" text-anchor="middle" textLength="8.4" lengthAdjust="spacingAndGlyphs" font-weight="bold">标准化</text>
<text class="g" x="886.4" y="744.6" font-size="4.2" text-anchor="middle" textLength="6.4" lengthAdjust="spacingAndGlyphs" font-weight="bold">审核</text>
<text class="g" x="886.4" y="750.2" font-size="4.2" text-anchor="middle" textLength="6.4" lengthAdjust="spacingAndGlyphs" font-weight="bold">工艺</text>
<text class="g" x="920.4" y="750.2" font-size="4.2" text-anchor="middle" textLength="6.4" lengthAdjust="spacingAndGlyphs" font-weight="bold">批准</text>
<text class="g" x="960.5" y="733.9" font-size="4.4" text-anchor="middle" textLength="12" lengthAdjust="spacingAndGlyphs" font-weight="bold">阶段标记</text>
<text class="g" x="976.5" y="733.9" font-size="4.4" text-anchor="middle" textLength="6" lengthAdjust="spacingAndGlyphs" font-weight="bold">重量</text>
<text class="g" x="986.6" y="733.9" font-size="4.4" text-anchor="middle" textLength="6" lengthAdjust="spacingAndGlyphs" font-weight="bold">比例</text>
<text x="983.7" y="741" font-size="3.2" fill="#ff0000" text-anchor="middle" textLength="3.2" lengthAdjust="spacingAndGlyphs" font-weight="bold">1:1</text></g>
</svg></body></html>
